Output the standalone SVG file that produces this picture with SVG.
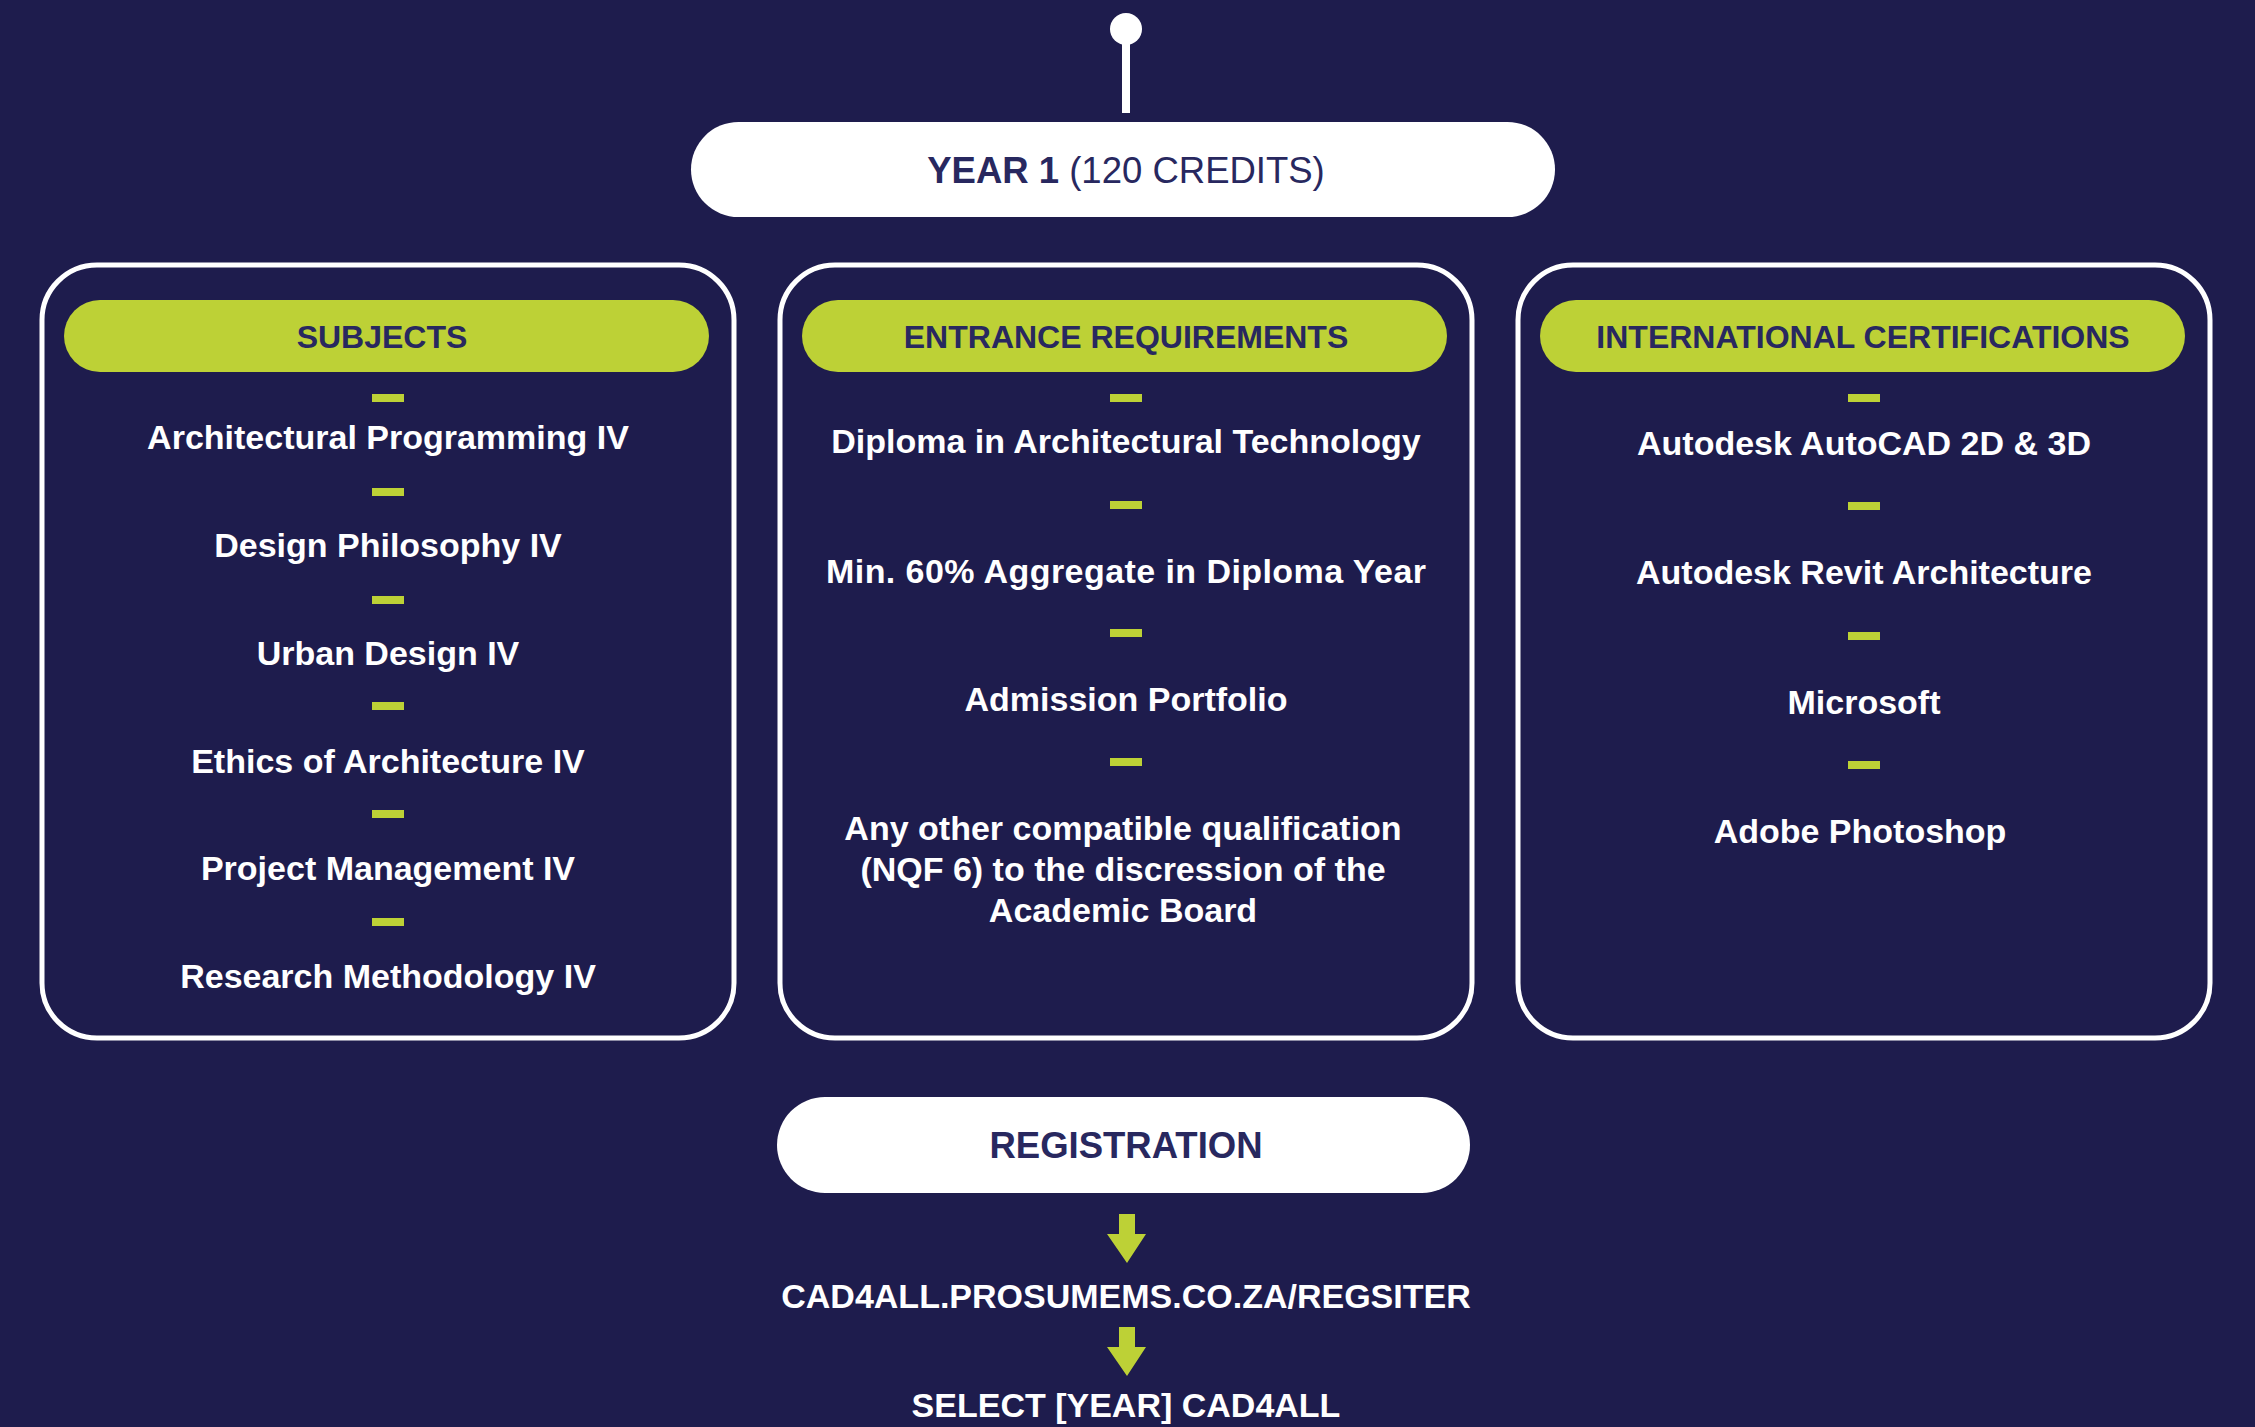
<svg xmlns="http://www.w3.org/2000/svg" width="2255" height="1427" viewBox="0 0 2255 1427">
<style>
.bg{fill:#1e1c4d}
.panel{fill:none;stroke:#ffffff;stroke-width:5}
.pill{fill:#bdd136}
.wpill{fill:#ffffff}
.dash{fill:#bdd136}
.hd{font-family:"Liberation Sans",Arial,sans-serif;font-weight:bold;font-size:32px;fill:#28285f;text-anchor:middle}
.bt{font-family:"Liberation Sans",Arial,sans-serif;font-weight:bold;font-size:34px;fill:#ffffff;text-anchor:middle}
.big{font-family:"Liberation Sans",Arial,sans-serif;font-size:36.5px;fill:#28285f;text-anchor:middle}
.arrow{fill:#bdd136}
</style>
<rect class="bg" x="0" y="0" width="2255" height="1427"/>

<g id="connectors">
  <circle cx="1126" cy="29" r="16" fill="#ffffff"/>
  <rect x="1122" y="40" width="8" height="73" fill="#ffffff"/>
  <polygon class="arrow" points="1119,1214 1135,1214 1135,1234 1146,1234 1127,1263 1107,1234 1119,1234"/>
  <polygon class="arrow" points="1119,1327 1135,1327 1135,1347 1146,1347 1127,1376 1107,1347 1119,1347"/>
</g>

<g id="year1">
  <rect class="wpill" x="691" y="122" width="864" height="95" rx="47.5"/>
  <text class="big" x="1126" y="183"><tspan font-weight="bold">YEAR 1</tspan> (120 CREDITS)</text>
</g>

<g id="subjects">
  <rect class="panel" x="42" y="265" width="692" height="773" rx="55"/>
  <rect class="pill" x="64" y="300" width="645" height="72" rx="36"/>
  <text class="hd" x="382" y="348">SUBJECTS</text>
  <rect class="dash" x="372" y="394" width="32" height="8"/>
  <text class="bt" x="388" y="449">Architectural Programming IV</text>
  <rect class="dash" x="372" y="488" width="32" height="8"/>
  <text class="bt" x="388" y="557">Design Philosophy IV</text>
  <rect class="dash" x="372" y="596" width="32" height="8"/>
  <text class="bt" x="388" y="665">Urban Design IV</text>
  <rect class="dash" x="372" y="702" width="32" height="8"/>
  <text class="bt" x="388" y="773">Ethics of Architecture IV</text>
  <rect class="dash" x="372" y="810" width="32" height="8"/>
  <text class="bt" x="388" y="880">Project Management IV</text>
  <rect class="dash" x="372" y="918" width="32" height="8"/>
  <text class="bt" x="388" y="988">Research Methodology IV</text>
</g>

<g id="entrance">
  <rect class="panel" x="780" y="265" width="692" height="773" rx="55"/>
  <rect class="pill" x="802" y="300" width="645" height="72" rx="36"/>
  <text class="hd" x="1126" y="348">ENTRANCE REQUIREMENTS</text>
  <rect class="dash" x="1110" y="394" width="32" height="8"/>
  <text class="bt" x="1126" y="453">Diploma in Architectural Technology</text>
  <rect class="dash" x="1110" y="501" width="32" height="8"/>
  <text class="bt" x="1126" y="583" textLength="600" lengthAdjust="spacing">Min. 60% Aggregate in Diploma Year</text>
  <rect class="dash" x="1110" y="629" width="32" height="8"/>
  <text class="bt" x="1126" y="711">Admission Portfolio</text>
  <rect class="dash" x="1110" y="758" width="32" height="8"/>
  <text class="bt" x="1123" y="840">Any other compatible qualification</text>
  <text class="bt" x="1123" y="881">(NQF 6) to the discression of the</text>
  <text class="bt" x="1123" y="922">Academic Board</text>
</g>

<g id="certifications">
  <rect class="panel" x="1518" y="265" width="692" height="773" rx="55"/>
  <rect class="pill" x="1540" y="300" width="645" height="72" rx="36"/>
  <text class="hd" x="1863" y="348">INTERNATIONAL CERTIFICATIONS</text>
  <rect class="dash" x="1848" y="394" width="32" height="8"/>
  <text class="bt" x="1864" y="455">Autodesk AutoCAD 2D &amp; 3D</text>
  <rect class="dash" x="1848" y="502" width="32" height="8"/>
  <text class="bt" x="1864" y="584">Autodesk Revit Architecture</text>
  <rect class="dash" x="1848" y="632" width="32" height="8"/>
  <text class="bt" x="1864" y="714">Microsoft</text>
  <rect class="dash" x="1848" y="761" width="32" height="8"/>
  <text class="bt" x="1860" y="843">Adobe Photoshop</text>
</g>

<g id="registration">
  <rect class="wpill" x="777" y="1097" width="693" height="96" rx="48"/>
  <text class="big" x="1126" y="1158" font-weight="bold">REGISTRATION</text>
</g>

<g id="url">
  <text class="bt" x="1126" y="1308">CAD4ALL.PROSUMEMS.CO.ZA/REGSITER</text>
</g>

<g id="select">
  <text class="bt" x="1126" y="1417">SELECT [YEAR] CAD4ALL</text>
</g>
</svg>
